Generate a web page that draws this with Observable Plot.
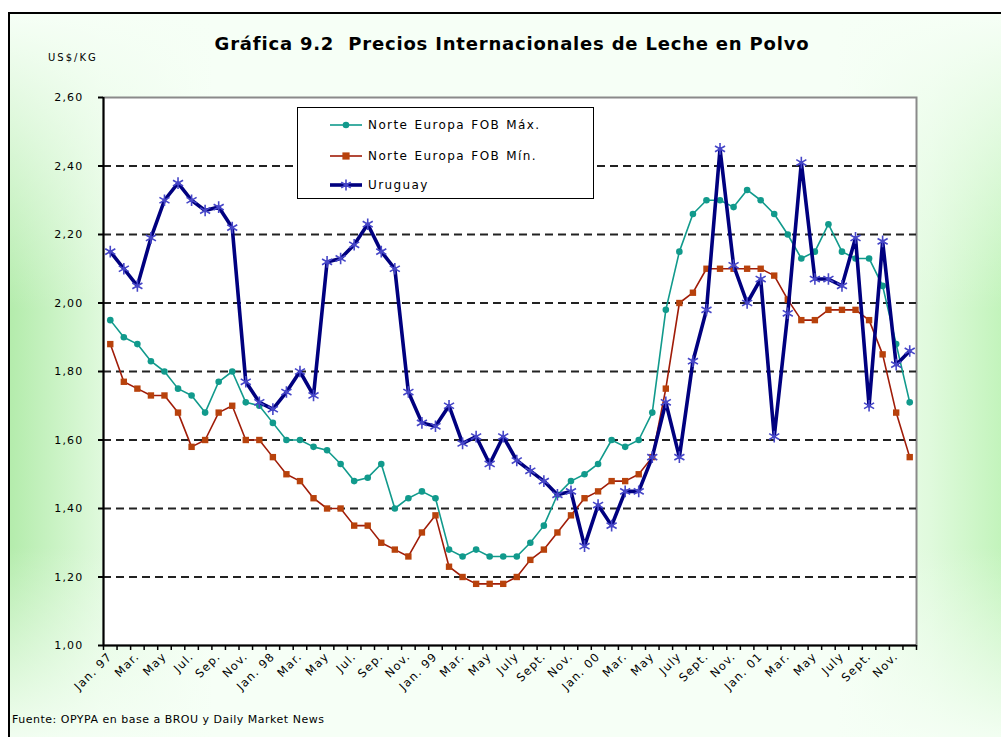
<!DOCTYPE html>
<html>
<head>
<meta charset="utf-8">
<script src="https://cdn.jsdelivr.net/npm/d3@7"></script>
<script src="https://cdn.jsdelivr.net/npm/@observablehq/plot@0.6"></script>
<style>
  html, body { margin: 0; padding: 0; width: 1001px; height: 737px; overflow: hidden; background: #fff; }
  body { position: relative; font-family: "DejaVu Sans", Verdana, sans-serif; color: #000; }
  #frame {
    position: absolute; left: 8px; top: 12px; width: 1010px; height: 740px;
    border: 2px solid #000;
    background:
      linear-gradient(to bottom, rgba(246,255,246,1) 0%, rgba(246,255,246,0) 40%, rgba(246,255,246,0) 72%, rgba(246,255,246,1) 100%),
      linear-gradient(to right, #b4ecac 0%, #dff9dc 9%, #f6fff6 20%, #f6fff6 82%, #e0fadd 91%, #bbf2b3 100%);
  }
  #chart { position: absolute; left: 0; top: 0; }
  #title {
    position: absolute; top: 33px; left: 0; width: 1024px; text-align: center;
    font-weight: bold; font-size: 18px; white-space: pre; letter-spacing: 0.8px;
  }
  #unit { position: absolute; left: 48px; top: 52px; font-size: 10px; letter-spacing: 2px; }
  #legend {
    position: absolute; left: 297px; top: 107px; width: 297px; height: 92px;
    border: 1.5px solid #000; background: #fff; box-sizing: border-box;
  }
  .row { position: absolute; left: 0; height: 20px; display: flex; align-items: center; font-size: 12px; letter-spacing: 1.4px; word-spacing: 1px; }
  .row svg { margin-left: 32px; margin-right: 6px; }
  #source { position: absolute; left: 12px; top: 713px; font-size: 11px; letter-spacing: 0.5px; }
</style>
</head>
<body>
<div id="frame"></div>
<div id="chart"></div>
<div id="title">Gráfica 9.2  Precios Internacionales de Leche en Polvo</div>
<div id="unit">US$/KG</div>
<div id="legend"></div>
<div id="source">Fuente: OPYPA en base a BROU y Daily Market News</div>
<script>
// Monthly series, Jan 1997 – Dec 2001 (US$/kg)
const maxEU = [1.95,1.90,1.88,1.83,1.80,1.75,1.73,1.68,1.77,1.80,1.71,1.70,
               1.65,1.60,1.60,1.58,1.57,1.53,1.48,1.49,1.53,1.40,1.43,1.45,
               1.43,1.28,1.26,1.28,1.26,1.26,1.26,1.30,1.35,1.44,1.48,1.50,
               1.53,1.60,1.58,1.60,1.68,1.98,2.15,2.26,2.30,2.30,2.28,2.33,
               2.30,2.26,2.20,2.13,2.15,2.23,2.15,2.13,2.13,2.05,1.88,1.71];
const minEU = [1.88,1.77,1.75,1.73,1.73,1.68,1.58,1.60,1.68,1.70,1.60,1.60,
               1.55,1.50,1.48,1.43,1.40,1.40,1.35,1.35,1.30,1.28,1.26,1.33,
               1.38,1.23,1.20,1.18,1.18,1.18,1.20,1.25,1.28,1.33,1.38,1.43,
               1.45,1.48,1.48,1.50,1.55,1.75,2.00,2.03,2.10,2.10,2.10,2.10,
               2.10,2.08,2.01,1.95,1.95,1.98,1.98,1.98,1.95,1.85,1.68,1.55];
const uruguay = [2.15,2.10,2.05,2.19,2.30,2.35,2.30,2.27,2.28,2.22,1.77,1.71,
                 1.69,1.74,1.80,1.73,2.12,2.13,2.17,2.23,2.15,2.10,1.74,1.65,
                 1.64,1.70,1.59,1.61,1.53,1.61,1.54,1.51,1.48,1.44,1.45,1.29,
                 1.41,1.35,1.45,1.45,1.55,1.71,1.55,1.83,1.98,2.45,2.11,2.00,
                 2.07,1.61,1.97,2.41,2.07,2.07,2.05,2.19,1.70,2.18,1.82,1.86];
const tickLabels = ["Jan. 97","Mar.","May","Jul.","Sep.","Nov.",
                    "Jan. 98","Mar.","May","Jul.","Sep.","Nov.",
                    "Jan. 99","Mar.","May","July","Sept.","Nov.",
                    "Jan. 00","Mar.","May","July","Sept.","Nov.",
                    "Jan. 01","Mar.","May","July","Sept.","Nov."];
const yTicks = [1.0,1.2,1.4,1.6,1.8,2.0,2.2,2.4,2.6];
const gridTicks = [1.2,1.4,1.6,1.8,2.0,2.2,2.4];
const seriesNames = ["Norte Europa FOB Máx.","Norte Europa FOB Mín.","Uruguay"];

const TEAL = "#119a8c", RED_LINE = "#a01c08", RED_MARK = "#b8420c", NAVY = "#00007f", STAR = "#4646c8";

const rows = maxEU.map((v, i) => ({i, max: v, min: minEU[i], uy: uruguay[i]}));
const labelIdx = tickLabels.map((_, k) => k * 2);
const boundaries = d3.range(61).map(k => k - 0.5);

const chart = Plot.plot({
  width: 1001, height: 737,
  marginLeft: 103, marginRight: 85, marginTop: 97, marginBottom: 92,
  style: {background: "transparent", fontFamily: "DejaVu Sans, Verdana, sans-serif", fontSize: "11px", color: "#000", letterSpacing: "1.2px"},
  x: {type: "linear", domain: [-0.5, 59.5]},
  y: {domain: [1.0, 2.6]},
  marks: [
    Plot.frame({fill: "#fff", stroke: "#8a8a8a", strokeWidth: 2}),
    Plot.gridY(gridTicks, {stroke: "#222", strokeOpacity: 1, strokeWidth: 2, strokeDasharray: "8,5"}),
    Plot.axisY(yTicks, {tickFormat: d => d.toFixed(2).replace(".", ","), tickSize: 5, tickPadding: 15, label: null, strokeWidth: 2, fontSize: 11}),
    Plot.axisX(boundaries, {tickFormat: () => "", tickSize: 5, label: null, strokeWidth: 1.5}),
    Plot.axisX(labelIdx, {tickFormat: i => tickLabels[i / 2], tickRotate: -45, tickSize: 0, tickPadding: 9, label: null, fontSize: 11.5}),
    Plot.ruleY([1.0], {stroke: "#000", strokeWidth: 2}),
    Plot.ruleX([-0.5], {stroke: "#000", strokeWidth: 2}),
    Plot.line(rows, {x: "i", y: "max", stroke: TEAL, strokeWidth: 1.6}),
    Plot.dot(rows, {x: "i", y: "max", fill: TEAL, r: 3.3}),
    Plot.line(rows, {x: "i", y: "min", stroke: RED_LINE, strokeWidth: 1.6}),
    Plot.dot(rows, {x: "i", y: "min", fill: RED_MARK, symbol: "square", r: 3.6}),
    Plot.line(rows, {x: "i", y: "uy", stroke: NAVY, strokeWidth: 3.6}),
    Plot.dot(rows, {x: "i", y: "uy", stroke: STAR, symbol: "asterisk", r: 5.5, strokeWidth: 1.6})
  ]
});
document.getElementById("chart").appendChild(chart);

// legend
const legend = document.getElementById("legend");
const samples = [
  `<svg width="32" height="12"><line x1="0" y1="6" x2="32" y2="6" stroke="${TEAL}" stroke-width="1.6"/><circle cx="16" cy="6" r="3.3" fill="${TEAL}"/></svg>`,
  `<svg width="32" height="12"><line x1="0" y1="6" x2="32" y2="6" stroke="${RED_LINE}" stroke-width="1.6"/><rect x="12.4" y="2.4" width="7.2" height="7.2" fill="${RED_MARK}"/></svg>`,
  `<svg width="32" height="12"><line x1="0" y1="6" x2="32" y2="6" stroke="${NAVY}" stroke-width="3.6"/><g stroke="${STAR}" stroke-width="1.6"><line x1="16" y1="0.5" x2="16" y2="11.5"/><line x1="11.2" y1="3.2" x2="20.8" y2="8.8"/><line x1="11.2" y1="8.8" x2="20.8" y2="3.2"/></g></svg>`
];
const rowTops = [7, 38, 67];
seriesNames.forEach((name, k) => {
  const r = document.createElement("div");
  r.className = "row";
  r.style.top = rowTops[k] + "px";
  r.innerHTML = samples[k] + `<span style="white-space:pre">${name}</span>`;
  legend.appendChild(r);
});
</script>
</body>
</html>
